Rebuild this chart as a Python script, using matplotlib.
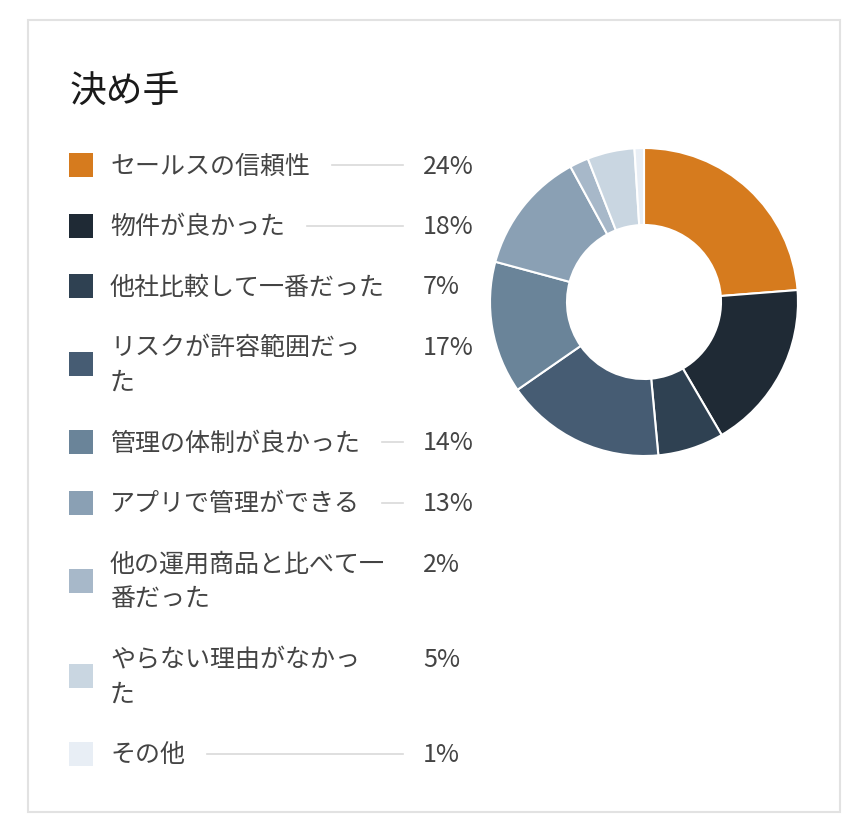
import matplotlib
matplotlib.use('Agg')
import matplotlib.pyplot as plt
from matplotlib.patches import Rectangle

plt.rcParams['font.family'] = ['Noto Sans CJK JP', 'DejaVu Sans']

title = "決め手"
labels = ["セールスの信頼性", "物件が良かった", "他社比較して一番だった",
          "リスクが許容範囲だっ\nた", "管理の体制が良かった", "アプリで管理ができる",
          "他の運用商品と比べて一\n番だった", "やらない理由がなかっ\nた", "その他"]
values = [24, 18, 7, 17, 14, 13, 2, 5, 1]
colors = ['#d67b1e', '#1f2a35', '#2f4152', '#465c73', '#6a8499', '#8aa0b4',
          '#a7b8c9', '#c9d6e1', '#e8eef5']

W, H = 868, 836
fig = plt.figure(figsize=(W / 100, H / 100), dpi=100)

# full-figure axes in pixel coords
ax = fig.add_axes([0, 0, 1, 1])
ax.set_xlim(0, W)
ax.set_ylim(H, 0)
ax.axis('off')

ax.add_patch(Rectangle((28, 20), 812, 792, fill=False, edgecolor='#e2e2e2', lw=1.5))
ax.text(70, 92, title, fontsize=26.5, color='#1a1a1a', va='center', ha='left')

txt_col = '#444444'
row_gap = 60.5
line_gap = 35
y = 165
fig.canvas.draw()
renderer = fig.canvas.get_renderer()
for lab, val, col in zip(labels, values, colors):
    lines = lab.split('\n')
    yc = y + line_gap * (len(lines) - 1) / 2
    ax.add_patch(Rectangle((69, yc - 12), 24, 24, facecolor=col, edgecolor='none'))
    for k, ln in enumerate(lines):
        t = ax.text(110, y + 1.5 + k * line_gap, ln, fontsize=18, color=txt_col,
                    va='center', ha='left')
    ax.text(423, y + 1.5, f"{val}%", fontsize=18, color=txt_col, va='center', ha='left')
    if len(lines) == 1:
        bb = t.get_window_extent(renderer)
        x_end = bb.x1 + 22
        if x_end < 390:
            ax.plot([x_end, 403], [y, y], color='#d9d9d9', lw=1.2)
    y += line_gap * (len(lines) - 1) + row_gap

# donut
cx, cy, r = 644, 302, 154
pax = fig.add_axes([(cx - r) / W, (H - cy - r) / H, 2 * r / W, 2 * r / H])
pax.pie(values, colors=colors, startangle=90, counterclock=False, radius=1,
        wedgeprops=dict(width=0.5, edgecolor='white', linewidth=1.5))
pax.set_xlim(-1, 1)
pax.set_ylim(-1, 1)
pax.axis('off')

fig.savefig('out.png', dpi=100)
